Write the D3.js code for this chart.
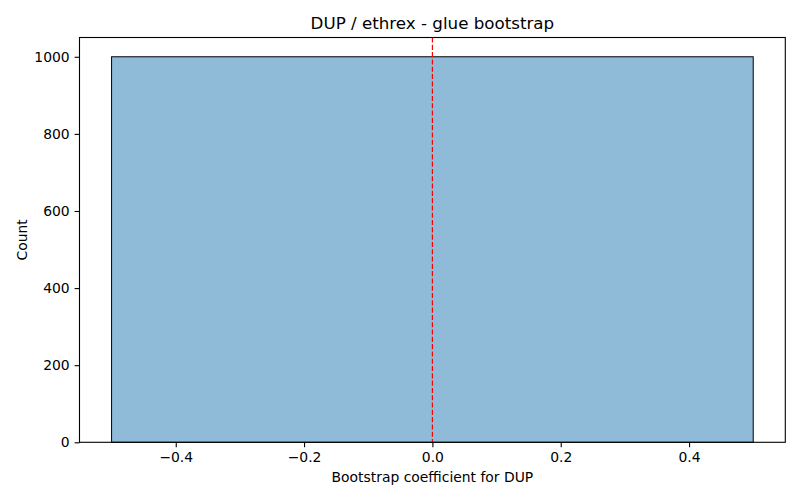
<!DOCTYPE html>
<html>
<head>
	<meta charset="utf-8">
	<title>DUP / ethrex - glue bootstrap</title>
	<style>
		body { margin: 0; background: #fff; }
		svg { display: block; font-family: 'DejaVu Sans', sans-serif; }
		.tick text { font-size: 13.9px; fill: #000; }
	</style>
</head>
<body>
	<svg width="800" height="500"></svg>
<script src="https://d3js.org/d3.v7.min.js"></script>
<script>
	// histogram bins (edges + counts)
	let binEdges = [-0.5, 0.5]
	let binCounts = [1000]
	let xTicks = [-0.4, -0.2, 0.0, 0.2, 0.4]
	let yTicks = [0, 200, 400, 600, 800, 1000]
	let refLine = [0]

	let width = 800
	let height = 500
	let margin = {top: 37.5, right: 14.7, bottom: 57.7, left: 79.5}

	let svg = d3.select('svg')

	let x = d3.scaleLinear()
		.domain([-0.55, 0.55])
		.range([margin.left, width - margin.right])

	let y = d3.scaleLinear()
		.domain([0, 1050])
		.range([height - margin.bottom, margin.top])

	let fmt = d => d3.format('.1f')(d).replace('-', '\u2212')

	// bars
	svg.append('g')
		.selectAll('rect')
		.data(binCounts)
		.join('rect')
		.attr('x', (d, i) => x(binEdges[i]))
		.attr('width', (d, i) => x(binEdges[i + 1]) - x(binEdges[i]))
		.attr('y', d => y(d))
		.attr('height', d => y(0) - y(d))
		.style('fill', '#1f77b4')
		.style('fill-opacity', 0.5)
		.style('stroke', '#000')
		.style('stroke-width', 1)

	// red dashed reference line
	svg.append('g')
		.selectAll('line')
		.data(refLine)
		.join('line')
		.attr('x1', d => x(d))
		.attr('x2', d => x(d))
		.attr('y1', margin.top)
		.attr('y2', height - margin.bottom)
		.style('stroke', 'red')
		.style('stroke-width', 1.2)
		.style('stroke-dasharray', '5.1,2.2')

	// axes
	let xAxis = d3.axisBottom(x)
		.tickValues(xTicks)
		.tickFormat(fmt)
		.tickSize(4.9)
		.tickPadding(4.9)

	let yAxis = d3.axisLeft(y)
		.tickValues(yTicks)
		.tickFormat(d3.format('d'))
		.tickSize(4.9)
		.tickPadding(4.9)

	let gx = svg.append('g')
		.attr('transform', `translate(0,${height - margin.bottom})`)
		.call(xAxis)
	let gy = svg.append('g')
		.attr('transform', `translate(${margin.left},0)`)
		.call(yAxis)

	;[gx, gy].forEach(g => {
		g.select('.domain').remove()
		g.selectAll('.tick line').style('stroke', '#000').style('stroke-width', 1.1)
		g.selectAll('.tick text').style('font-family', "'DejaVu Sans', sans-serif")
	})

	// frame
	svg.append('rect')
		.attr('x', margin.left)
		.attr('y', margin.top)
		.attr('width', width - margin.left - margin.right)
		.attr('height', height - margin.top - margin.bottom)
		.style('fill', 'none')
		.style('stroke', '#000')
		.style('stroke-width', 1.1)

	// title and labels
	svg.append('text')
		.attr('x', (margin.left + width - margin.right) / 2)
		.attr('y', margin.top - 8.3)
		.attr('text-anchor', 'middle')
		.style('font-size', '16.7px')
		.text('DUP / ethrex - glue bootstrap')

	svg.append('text')
		.attr('x', (margin.left + width - margin.right) / 2)
		.attr('y', 482)
		.attr('text-anchor', 'middle')
		.style('font-size', '13.9px')
		.text('Bootstrap coefficient for DUP')

	svg.append('text')
		.attr('transform', `translate(27,${(margin.top + height - margin.bottom) / 2}) rotate(-90)`)
		.attr('text-anchor', 'middle')
		.style('font-size', '13.9px')
		.text('Count')
</script>
</body>
</html>
